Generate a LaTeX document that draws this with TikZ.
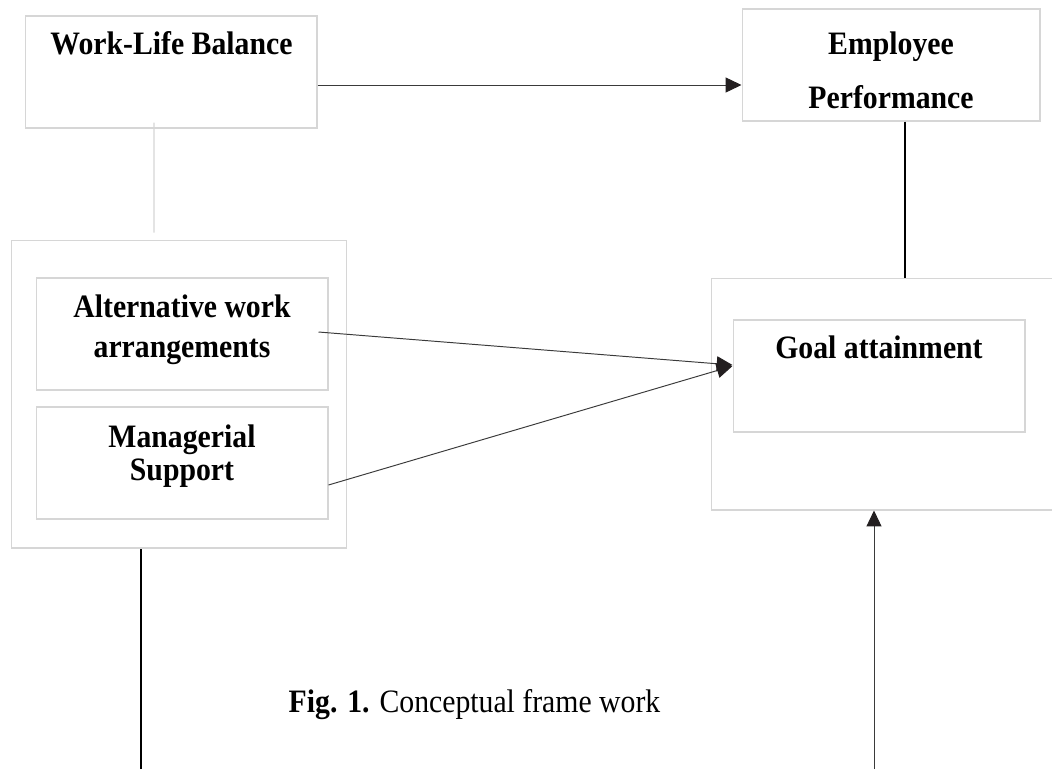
\documentclass[tikz,border=0pt]{standalone}
\usepackage{fontspec}
\setmainfont[FakeStretch=0.91]{Liberation Serif}
\usetikzlibrary{arrows.meta,positioning}
\definecolor{boxc}{HTML}{D6D6D6}
\definecolor{linec}{HTML}{3A3A3A}
\definecolor{tipc}{HTML}{231F20}
\tikzset{
  box/.style={draw=boxc,line width=0.6pt,minimum width=5.84cm,minimum height=2.24cm,inner sep=0pt},
  lbl/.style={anchor=base,inner sep=0pt,font=\fontsize{18.6}{22}\selectfont\bfseries},
  ar/.style={-{Triangle[length=9pt,width=8.5pt,color=tipc]},linec,line width=0.55pt},
  ln/.style={black,line width=0.75pt}
}

\begin{document}
\begin{tikzpicture}[x=0.02cm,y=-0.02cm]
\useasboundingbox (0,0) rectangle (1052,769);
\clip (0,0) rectangle (1052,769);
% boxes
\node[box] (wlb) at (171,72) {};
\node[box,minimum width=5.96cm] (emp) at (891,65) {};
\node[box,minimum width=6.72cm,minimum height=6.16cm] (grp) at (179,394) {};
\node[box] (awa) at (182,334) {};
\node[box] (mgr) at (182,463) {};
\node[box,minimum width=7.02cm,minimum height=4.64cm] (goalgrp) at (886.5,394) {};
\node[box] (goal) at (879,376) {};
% labels
\node[lbl] (wlbT) at (171.5,54) {Work-Life Balance};
\node[lbl] (empT1) at (891,54) {Employee};
\node[lbl] (empT2) at (891,108) {Performance};
\node[lbl] (awaT1) at (182,317) {Alternative work};
\node[lbl] (awaT2) at (182,357) {arrangements};
\node[lbl] (mgrT1) at (182,447) {Managerial};
\node[lbl] (mgrT2) at (182,480) {Support};
\node[lbl] (goalT) at (879,358) {Goal attainment};
\node[anchor=base,inner sep=0pt,font=\fontsize{18.6}{22}\selectfont] (cap) at (474.5,712) {\textbf{Fig. 1.} Conceptual frame work};
% links
\coordinate (lfoot) at (141,769);
\coordinate (rfoot) at (874,769);
\draw[ar] ([yshift=-0.26cm]wlb.east) -- ([yshift=-0.26cm]wlb.east -| emp.west);
\draw[boxc,line width=0.6pt] ([xshift=-0.34cm,yshift=0.12cm]wlb.south) -- ([xshift=-0.5cm,yshift=0.14cm]grp.north);
\draw[ln] ([xshift=0.28cm]emp.south) -- ([xshift=0.28cm]emp.south |- goalgrp.north);
\draw[ar] ([xshift=-0.2cm,yshift=0.04cm]awa.east) -- ([yshift=0.22cm]goal.west);
\draw[ar] ([yshift=-0.44cm]mgr.east) -- ([yshift=0.2cm]goal.west);
\draw[ln] (lfoot) -- (lfoot |- grp.south);
\draw[ar] (rfoot) -- (rfoot |- goalgrp.south);
\end{tikzpicture}
\end{document}
